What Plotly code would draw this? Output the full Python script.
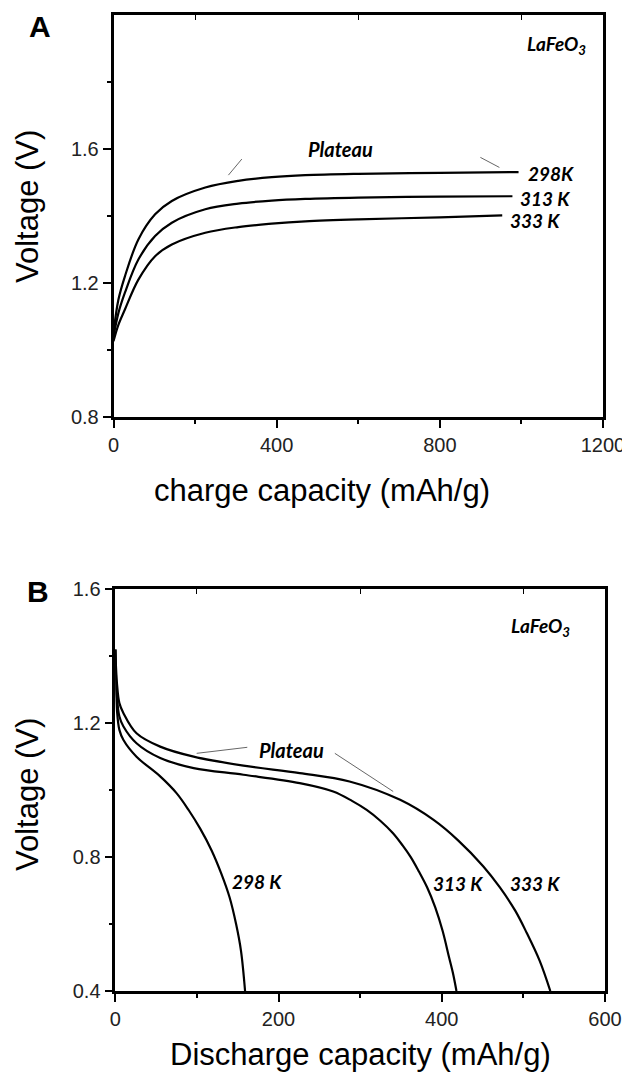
import plotly.graph_objects as go

W, H = 630, 1074
OFF = 8  # page body margin of the browser
FW, FH = W - OFF, H - OFF

# ---------------- Panel A : charge ----------------
cap_a_298 = [0, 12, 28, 61, 102, 143, 225, 306, 388, 470, 600, 800, 993]
v_a_298 = [1.051, 1.150, 1.220, 1.330, 1.405, 1.445, 1.485, 1.505, 1.516, 1.522, 1.526, 1.529, 1.531]
cap_a_313 = [0, 12, 28, 61, 102, 143, 225, 306, 388, 470, 600, 800, 978]
v_a_313 = [1.040, 1.110, 1.171, 1.270, 1.340, 1.380, 1.420, 1.437, 1.446, 1.451, 1.455, 1.458, 1.459]
cap_a_333 = [0, 12, 28, 61, 102, 143, 225, 306, 388, 470, 600, 800, 953]
v_a_333 = [1.026, 1.075, 1.121, 1.210, 1.280, 1.315, 1.350, 1.367, 1.377, 1.384, 1.390, 1.396, 1.402]

# plateau pointer lines (panel A)
ptr_a1_x = [281.7, 314.6]
ptr_a1_y = [1.522, 1.570]
ptr_a2_x = [899.4, 946.0]
ptr_a2_y = [1.575, 1.545]

# ---------------- Panel B : discharge ----------------
cap_b_298 = [0, 1, 2, 5, 10, 26, 55, 75, 90, 104, 118, 130, 140, 148, 154, 159]
v_b_298 = [1.42, 1.30, 1.24, 1.18, 1.15, 1.10, 1.041, 0.991, 0.940, 0.885, 0.820, 0.750, 0.680, 0.600, 0.520, 0.40]
cap_b_313 = [0, 1, 2, 5, 10, 26, 55, 96, 157, 226, 267, 290, 308, 325, 340, 352, 362, 372, 382, 392, 401, 409, 414, 418]
v_b_313 = [1.42, 1.33, 1.28, 1.22, 1.19, 1.140, 1.096, 1.066, 1.046, 1.021, 0.996, 0.968, 0.941, 0.908, 0.872, 0.835, 0.800, 0.757, 0.710, 0.650, 0.580, 0.500, 0.450, 0.40]
cap_b_333 = [0, 1, 2, 5, 10, 26, 55, 96, 157, 226, 287, 349, 390, 420, 451, 471, 490, 504, 520, 533]
v_b_333 = [1.42, 1.36, 1.32, 1.26, 1.23, 1.17, 1.13, 1.10, 1.073, 1.051, 1.026, 0.971, 0.911, 0.850, 0.772, 0.710, 0.640, 0.574, 0.490, 0.40]

ptr_b1_x = [99.7, 161.7]
ptr_b1_y = [1.110, 1.128]
ptr_b2_x = [269.0, 340.5]
ptr_b2_y = [1.110, 0.996]

# tick values
xa_major = [0, 400, 800, 1200]
xa_minor = [200, 600, 1000]
ya_major = [0.8, 1.2, 1.6]
ya_minor = [1.0, 1.4, 1.8]
xb_major = [0, 200, 400, 600]
xb_minor = [100, 300, 500]
yb_major = [0.4, 0.8, 1.2, 1.6]
yb_minor = [0.6, 1.0, 1.4]

def px(x):
    return (x - OFF) / FW

def py(y):
    return 1 - (y - OFF) / FH

fig = go.Figure()
line = dict(color="black", width=2.2, shape="spline", smoothing=1.0)

for cx, cy in [(cap_a_298, v_a_298), (cap_a_313, v_a_313), (cap_a_333, v_a_333)]:
    fig.add_trace(go.Scatter(x=cx, y=cy, mode="lines", line=line, xaxis="x", yaxis="y", showlegend=False))
for cx, cy in [(ptr_a1_x, ptr_a1_y), (ptr_a2_x, ptr_a2_y)]:
    fig.add_trace(go.Scatter(x=cx, y=cy, mode="lines", line=dict(color="#555", width=0.9), xaxis="x", yaxis="y", showlegend=False))
for cx, cy in [(cap_b_298, v_b_298), (cap_b_313, v_b_313), (cap_b_333, v_b_333)]:
    fig.add_trace(go.Scatter(x=cx, y=cy, mode="lines", line=line, xaxis="x2", yaxis="y2", showlegend=False))
for cx, cy in [(ptr_b1_x, ptr_b1_y), (ptr_b2_x, ptr_b2_y)]:
    fig.add_trace(go.Scatter(x=cx, y=cy, mode="lines", line=dict(color="#555", width=0.9), xaxis="x2", yaxis="y2", showlegend=False))
# dummy traces so the top tick axes render
fig.add_trace(go.Scatter(x=[None], y=[None], xaxis="x3", yaxis="y", showlegend=False))
fig.add_trace(go.Scatter(x=[None], y=[None], xaxis="x4", yaxis="y2", showlegend=False))

tickfont = dict(family="Liberation Sans, Arial", size=20, color="#222")
axcommon = dict(showgrid=False, zeroline=False, showline=True, linecolor="black", linewidth=2.5,
                mirror=True, ticks="outside", ticklen=8, tickwidth=1.5, tickcolor="black",
                tickfont=tickfont, tickmode="array", automargin=False)
topax = dict(side="top", tickmode="array", showticklabels=False, ticks="inside", ticklen=5,
             tickcolor="black", showline=False, showgrid=False, zeroline=False, automargin=False)

dom_ax = [px(113.5), px(603)]
dom_ay = [py(417), py(15)]
dom_bx = [px(115.3), px(605)]
dom_by = [py(991), py(589.3)]

fig.update_layout(
    width=FW, height=FH, margin=dict(l=0, r=0, t=0, b=0, pad=0),
    paper_bgcolor="white", plot_bgcolor="white",
    xaxis=dict(axcommon, domain=dom_ax, range=[0, 1200], tickvals=xa_major, anchor="y",
               minor=dict(tickmode="array", tickvals=xa_minor, ticklen=4, tickcolor="black", ticks="outside")),
    yaxis=dict(axcommon, domain=dom_ay, range=[0.8, 2.0], tickvals=ya_major, tickformat=".1f", anchor="x",
               minor=dict(tickmode="array", tickvals=ya_minor, ticklen=4, tickcolor="black", ticks="outside")),
    xaxis3=dict(topax, overlaying="x", anchor="y", range=[0, 1200], tickvals=xa_minor),
    xaxis2=dict(axcommon, domain=dom_bx, range=[0, 600], tickvals=xb_major, anchor="y2",
                minor=dict(tickmode="array", tickvals=xb_minor, ticklen=4, tickcolor="black", ticks="outside")),
    yaxis2=dict(axcommon, domain=dom_by, range=[0.4, 1.6], tickvals=yb_major, tickformat=".1f", anchor="x2",
                minor=dict(tickmode="array", tickvals=yb_minor, ticklen=4, tickcolor="black", ticks="outside")),
    xaxis4=dict(topax, overlaying="x2", anchor="y2", range=[0, 600], tickvals=xb_minor),
)

lab = dict(family="Lato, Open Sans", size=19, color="black", weight="bold", style="italic")
titlefont = dict(family="Liberation Sans, Arial", size=31, color="black")
panelfont = dict(family="Liberation Sans, Arial", size=30, color="black", weight="bold")

P = dict(xref="paper", yref="paper", showarrow=False, xanchor="center", yanchor="middle")
ann = []
# panel letters
ann.append(dict(P, text="A", x=px(40), y=py(27), font=panelfont))
ann.append(dict(P, text="B", x=px(38), y=py(591), font=panelfont))
# axis titles
ann.append(dict(P, text="Voltage (V)", x=px(27), y=py(207), textangle=-90, font=titlefont))
ann.append(dict(P, text="Voltage (V)", x=px(27), y=py(795), textangle=-90, font=titlefont))
ann.append(dict(P, text="charge capacity (mAh/g)", x=px(322), y=py(490), font=titlefont))
ann.append(dict(P, text="Discharge capacity (mAh/g)", x=px(360), y=py(1054), font=titlefont))
# panel A labels
ann.append(dict(text="LaFeO<sub>3</sub>", x=1162, y=1.909, xref="x", yref="y", xanchor="right",
                showarrow=False, font=dict(lab, size=19)))
ann.append(dict(text="Plateau", x=556, y=1.60, xref="x", yref="y", showarrow=False, font=dict(lab, size=20)))
ann.append(dict(text="298K", x=1012, y=1.528, xref="x", yref="y", xanchor="left", showarrow=False, font=lab))
ann.append(dict(text="313 K", x=991, y=1.452, xref="x", yref="y", xanchor="left", showarrow=False, font=lab))
ann.append(dict(text="333 K", x=967, y=1.387, xref="x", yref="y", xanchor="left", showarrow=False, font=lab))
# panel B labels
ann.append(dict(text="LaFeO<sub>3</sub>", x=559, y=1.488, xref="x2", yref="y2", xanchor="right",
                showarrow=False, font=dict(lab, size=19)))
ann.append(dict(text="Plateau", x=216, y=1.120, xref="x2", yref="y2", showarrow=False, font=dict(lab, size=20)))
ann.append(dict(text="298 K", x=140, y=0.727, xref="x2", yref="y2", xanchor="left", showarrow=False, font=lab))
ann.append(dict(text="313 K", x=387, y=0.722, xref="x2", yref="y2", xanchor="left", showarrow=False, font=lab))
ann.append(dict(text="333 K", x=481, y=0.722, xref="x2", yref="y2", xanchor="left", showarrow=False, font=lab))

fig.update_layout(annotations=ann)
fig.write_html("out.html")
